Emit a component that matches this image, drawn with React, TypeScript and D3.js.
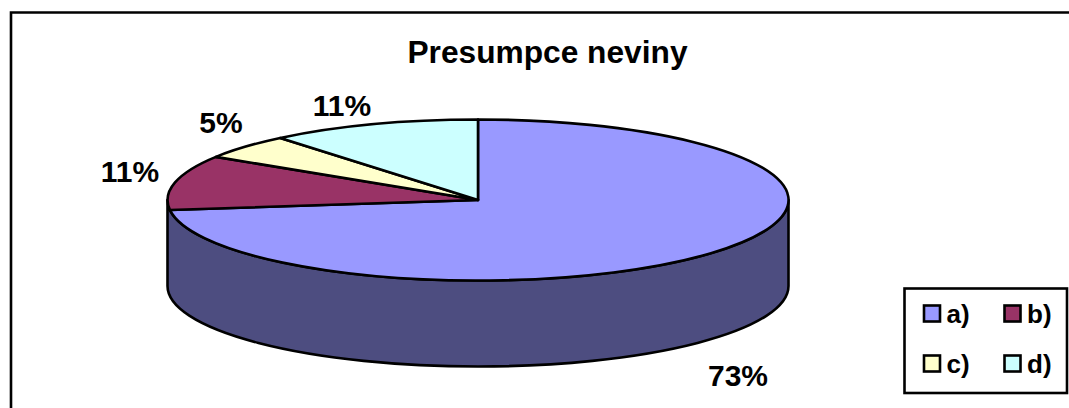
import React from "react";
import * as d3 from "d3";

const categories = ["a)", "b)", "c)", "d)"];
const values = [73, 11, 5, 11];
const labels = ["73%", "11%", "5%", "11%"];
const colors = ["#9999FF", "#993366", "#FFFFCC", "#CCFFFF"];
const sideColor = "#4D4D80";
const W = 1069, H = 408;
const cx = 478, cy = 200, rx = 310.5, ry = 80.5, depth = 86;
const font = "Liberation Sans, Arial, sans-serif";
const labelPos = [[738, 386], [130, 182], [221, 133], [342, 116]];
const legendPos = [[924, 305.5], [1004.5, 305.5], [924, 355.5], [1004.5, 355.5]];
const sw = 2.6;

export default function App() {
  const arcs = d3.pie<number>().sort(null)(values);
  const arc = d3.arc<d3.PieArcDatum<number>>().innerRadius(0).outerRadius(1);
  const px = (t: number) => cx + rx * Math.sin(t);
  const py = (t: number) => cy - ry * Math.cos(t);
  const right = Math.PI / 2, left = Math.PI * 1.5;
  const x0 = px(right), y0 = py(right), x1 = px(left), y1 = py(left);
  return (
    <svg width={W} height={H} style={{ position: "absolute", left: 0, top: 0, background: "#fff" }}>
      <path d={`M11,${H + 5} V12.5 H${W + 5}`} fill="#fff" stroke="#000" strokeWidth={sw} />
      <text x={547.5} y={63} textAnchor="middle" fontFamily={font} fontWeight="bold" fontSize={31.7} fill="#000">Presumpce neviny</text>
      <path d={`M${x0},${y0} A${rx},${ry} 0 0 1 ${x1},${y1} V${y1 + depth} A${rx},${ry} 0 0 0 ${x0},${y0 + depth} Z`} fill={sideColor} stroke="#000" strokeWidth={sw} strokeLinejoin="round" />
      <g transform={`translate(${cx},${cy}) scale(${rx},${ry})`}>
        {arcs.map((d, i) => (
          <path key={i} d={arc(d) as string} fill={colors[i]} stroke="#000" strokeWidth={sw} vectorEffect="non-scaling-stroke" strokeLinejoin="round" />
        ))}
      </g>
      {labels.map((l, i) => (
        <text key={i} x={labelPos[i][0]} y={labelPos[i][1]} textAnchor="middle" fontFamily={font} fontWeight="bold" fontSize={30} fill="#000">{l}</text>
      ))}
      <rect x={904.5} y={288.5} width={162.5} height={104.5} fill="#fff" stroke="#000" strokeWidth={sw} />
      {categories.map((c, i) => (
        <g key={c}>
          <rect x={legendPos[i][0]} y={legendPos[i][1]} width={16} height={16} fill={colors[i]} stroke="#000" strokeWidth={sw} />
          <text x={legendPos[i][0] + 22.5} y={legendPos[i][1] + 17} fontFamily={font} fontWeight="bold" fontSize={26} fill="#000">{c}</text>
        </g>
      ))}
    </svg>
  );
}
